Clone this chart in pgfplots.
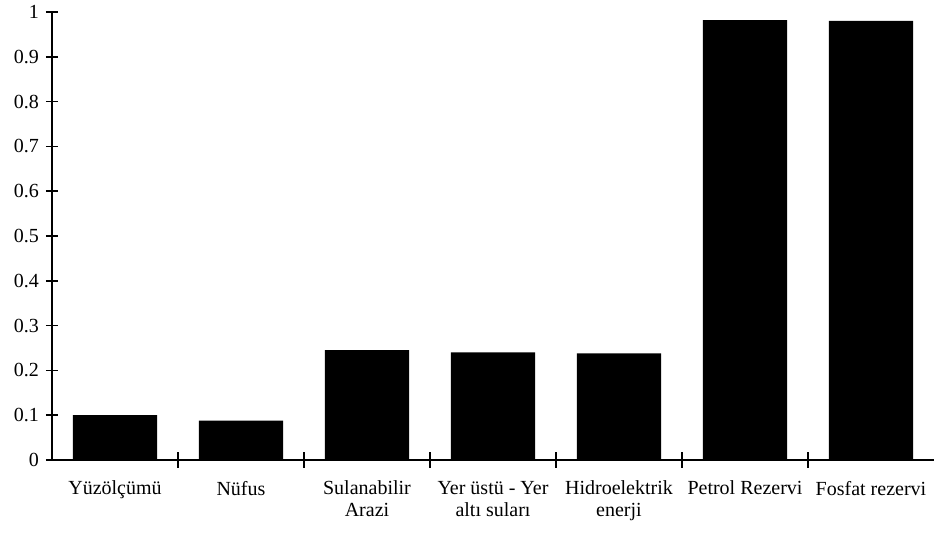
\documentclass[border=0pt]{standalone}
\usepackage{pgfplots}
\pgfplotsset{compat=1.18}
\usepackage{fontspec}
\setmainfont{Liberation Serif}
\begin{document}
\fontsize{10}{11}\selectfont
\begin{tikzpicture}
\useasboundingbox (-26pt,-37pt) rectangle (441pt,230pt);
\begin{axis}[
  at={(0pt,0pt)}, anchor=south west,
  scale only axis, width=441pt, height=224pt,
  xmin=-0.5, xmax=6.5, ymin=0, ymax=1,
  axis lines*=left,
  axis line style={black, line width=1pt},
  ybar, bar width=0.67,
  xtick={0,1,2,3,4,5,6},
  xticklabels={Yüzölçümü, Nüfus, {Sulanabilir\\Arazi}, {Yer üstü - Yer\\altı suları}, {Hidroelektrik\\enerji}, Petrol Rezervi, Fosfat rezervi},
  xticklabel style={align=center, font=\fontsize{10}{11}\selectfont, yshift=-4pt},
  major x tick style={draw=none},
  minor xtick={0.5,1.5,2.5,3.5,4.5,5.5},
  tick align=center,
  major tick length=6pt, minor tick length=8pt,
  tick style={black, line width=0.8pt},
  ytick={0,0.1,0.2,0.3,0.4,0.5,0.6,0.7,0.8,0.9,1},
  yticklabels={0,0.1,0.2,0.3,0.4,0.5,0.6,0.7,0.8,0.9,1},
  yticklabel style={font=\fontsize{10}{11}\selectfont},
  clip=false,
]
\addplot[fill=black, draw=none] coordinates {(0,0.100) (1,0.088) (2,0.245) (3,0.240) (4,0.238) (5,0.982) (6,0.980)};
\end{axis}
\end{tikzpicture}
\end{document}
